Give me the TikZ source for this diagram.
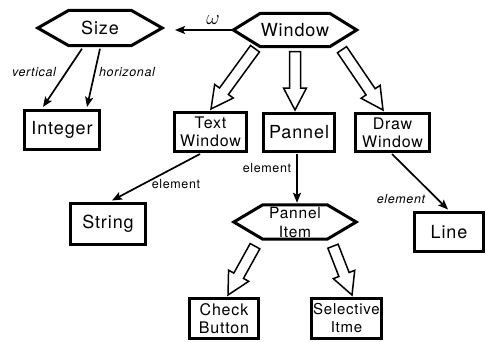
\documentclass[tikz,border=0pt]{standalone}
\usepackage{fontspec}
\setmainfont{TeX Gyre Heros}[LetterSpace=5]
\usetikzlibrary{calc,arrows.meta}
\tikzset{
 box/.style={draw, line width=3pt, inner sep=0pt, align=center},
 hexnode/.style={inner sep=0pt, align=center},
 hexline/.style={line width=3pt, line join=miter},
 arr/.style={line width=1.7pt, -{Stealth[length=10pt,width=8pt,inset=2pt]}},
 hollow/.style={line width=1.5pt, line join=miter, fill=white},
 big/.style={font=\fontsize{18}{20}\selectfont},
 mid/.style={font=\fontsize{16}{18}\selectfont},
 lab/.style={font=\fontsize{12.5}{14}\selectfont},
 ilab/.style={font=\fontsize{12.5}{14}\selectfont\itshape},
}
\newcommand\hexdraw[2]{%
 \draw[hexline] (#1.west) -- ($(#1.north west)+(#2,0)$) -- ($(#1.north east)+(-#2,0)$) -- (#1.east) -- ($(#1.south east)+(-#2,0)$) -- ($(#1.south west)+(#2,0)$) -- cycle;}
\newcommand\hollowarr[2]{%
 \coordinate (hb) at ($(#2)!22pt!(#1)$);
 \draw[hollow] ($(#1)!5.5pt!90:(#2)$) -- ($(hb)!5.5pt!90:(#2)$) -- ($(hb)!11.5pt!90:(#2)$) -- (#2) -- ($(hb)!11.5pt!-90:(#2)$) -- ($(hb)!5.5pt!-90:(#2)$) -- ($(#1)!5.5pt!-90:(#2)$) -- cycle;}
\begin{document}
\begin{tikzpicture}[x=1pt,y=1pt]
\useasboundingbox (0,0) rectangle (487,341);
% hexagon nodes
\node[hexnode, big, minimum width=124pt, minimum height=35pt] (size) at (100,313) {Size};
\node[hexnode, big, minimum width=123pt, minimum height=33pt] (win) at (295,311) {Window};
\node[hexnode, font=\fontsize{15.5}{19}\selectfont, minimum width=122pt, minimum height=34pt] (pi) at (295,119) {Pannel\\Item};
\hexdraw{size}{31}
\hexdraw{win}{27}
\hexdraw{pi}{29}
% boxes
\node[box, big, minimum width=75pt, minimum height=39pt] (int) at (62,211) {Integer};
\node[box, mid, minimum width=72pt, minimum height=39pt] (tw) at (210.5,209) {Text\\Window};
\node[box, big, minimum width=71pt, minimum height=38pt] (pan) at (299,208.5) {Pannel};
\node[box, mid, minimum width=74pt, minimum height=38pt] (dw) at (392.5,208.5) {Draw\\Window};
\node[box, big, minimum width=75pt, minimum height=41pt] (str) at (108,117) {String};
\node[box, big, minimum width=69pt, minimum height=39pt] (line) at (449,109) {Line};
\node[box, mid, minimum width=69pt, minimum height=40pt] (cb) at (224,22.5) {Check\\Button};
\node[box, font=\fontsize{15}{18}\selectfont, minimum width=70pt, minimum height=40pt] (si) at (346.5,22.5) {Selective\\Itme};
% thin arrows
\coordinate (om) at (175,311);
\draw[arr] (win.west) -- (om);
\node[font=\fontsize{22}{24}\selectfont] (omlab) at (213,321) {$\omega$};
\draw[arr] ($(size.south)+(-18,-3)$) -- ($(int.north)+(-19,2)$);
\draw[arr] ($(size.south)+(0,-3)$) -- ($(int.north)+(25,2)$);
\node[ilab] (lv) at (34,269) {vertical};
\node[ilab] (lh) at (127,269) {horizonal};
\draw[arr] ($(tw.south)+(-10.5,-1)$) -- ($(str.north)+(4,1.5)$);
\node[lab] (le1) at (176,157) {element};
\draw[arr] ($(pan.south)+(-2,-1)$) -- ($(pi.north)+(2,2)$);
\node[lab] (le2) at (267,173) {element};
\draw[arr] ($(dw.south)+(-0.5,-1)$) -- ($(line.north)+(-1,1.5)$);
\node[ilab] (le3) at (401,142) {element};
% hollow arrows
\hollowarr{$(win.south)+(-40,-2)$}{$(tw.north)+(0.5,2)$}
\hollowarr{$(win.south)+(0,-5)$}{$(pan.north)+(-4,2)$}
\hollowarr{$(win.south)+(47,-3)$}{$(dw.north)+(-9.5,2)$}
\hollowarr{$(pi.south)+(-40,-7)$}{$(cb.north)+(4,2)$}
\hollowarr{$(pi.south)+(38,-7)$}{$(si.north)+(5.5,2)$}
\end{tikzpicture}
\end{document}
